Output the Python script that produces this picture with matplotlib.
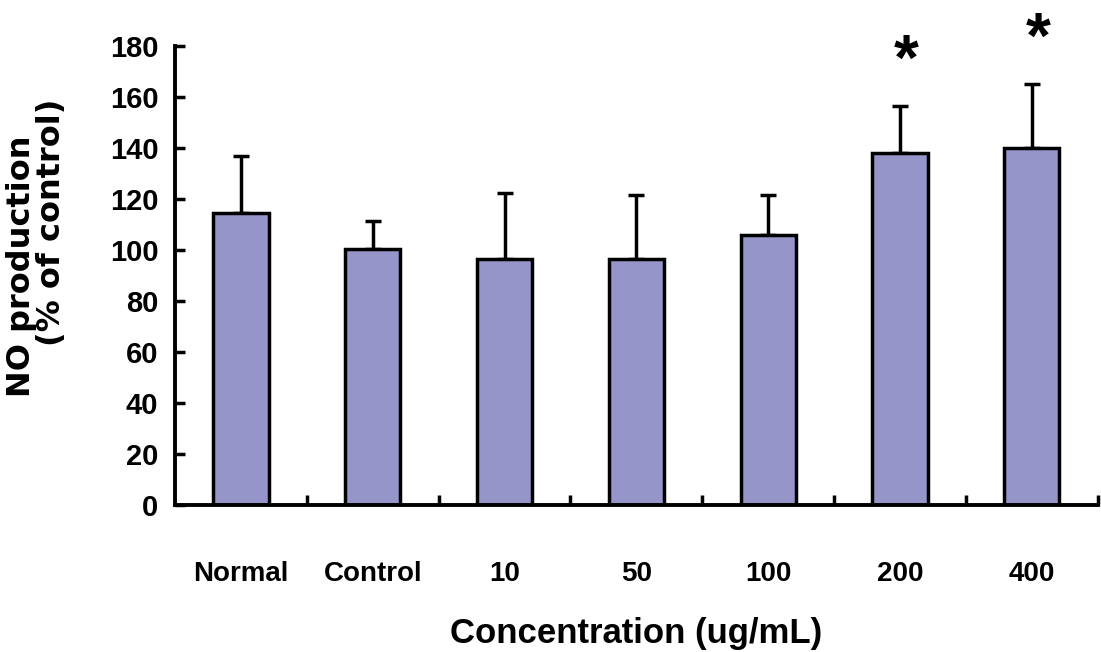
import matplotlib
matplotlib.use('Agg')
import matplotlib.pyplot as plt
import numpy as np

groups = ['Normal', 'Control', '10', '50', '100', '200', '400']
means = [114.5, 100.5, 96.5, 96.5, 106, 138, 140]
sds = [22.5, 11, 26, 25, 15.5, 18.5, 25]
marks = ['', '', '', '', '', '*', '*']
yticks = [0, 20, 40, 60, 80, 100, 120, 140, 160, 180]

bar_color = '#9595C9'

fig = plt.figure(figsize=(11.01, 6.52), dpi=100)
ax = fig.add_axes([0.159, 0.2255, 0.838, 0.704])

x = np.arange(len(groups))
ax.bar(x, means, width=0.42, color=bar_color, edgecolor='black', linewidth=2.5, zorder=2)
ax.errorbar(x, means, yerr=[np.zeros(len(sds)), sds], fmt='none', ecolor='black',
            elinewidth=2.5, capsize=6, capthick=2.5, zorder=1)

# significance stars above the error bars
for xi, m, s, mk in zip(x, means, sds, marks):
    if mk:
        ax.text(xi + 0.05, m + s + 17, mk, ha='center', va='center', fontsize=46,
                fontweight='bold', family='Liberation Sans', clip_on=False)

ax.set_xlim(-0.5, 6.5)
ax.set_ylim(0, 180)
ax.set_yticks(yticks)
ax.set_yticklabels([str(v) for v in yticks], fontsize=21, fontweight='bold', family='Liberation Sans')

# boundary ticks (no labels) + labels at bar centres
ax.set_xticks(np.arange(0.5, 7, 1.0))
ax.set_xticklabels([])
ax.set_xticks(x, minor=True)
ax.set_xticklabels(groups, minor=True, fontsize=20, fontweight='bold', family='Liberation Sans')
ax.tick_params(axis='x', which='major', direction='in', length=7, width=2.5)
ax.tick_params(axis='x', which='minor', length=0, pad=40)
ax.tick_params(axis='y', direction='in', length=7, width=2.5, pad=12)

for side in ['top', 'right']:
    ax.spines[side].set_visible(False)
for side in ['left', 'bottom']:
    ax.spines[side].set_linewidth(2.8)

ax.set_xlabel('Concentration (ug/mL)', fontsize=25, fontweight='bold',
              family='Liberation Sans', labelpad=22)

fig.text(22 / 1101, 1 - 266 / 652, 'NO production', rotation=90, ha='center', va='center',
         fontsize=23, fontweight='bold', family='DejaVu Sans')
fig.text(52 / 1101, 1 - 222 / 652, '(% of control)', rotation=90, ha='center', va='center',
         fontsize=23, fontweight='bold', family='DejaVu Sans')

fig.savefig('out.png', dpi=100, facecolor='white')
